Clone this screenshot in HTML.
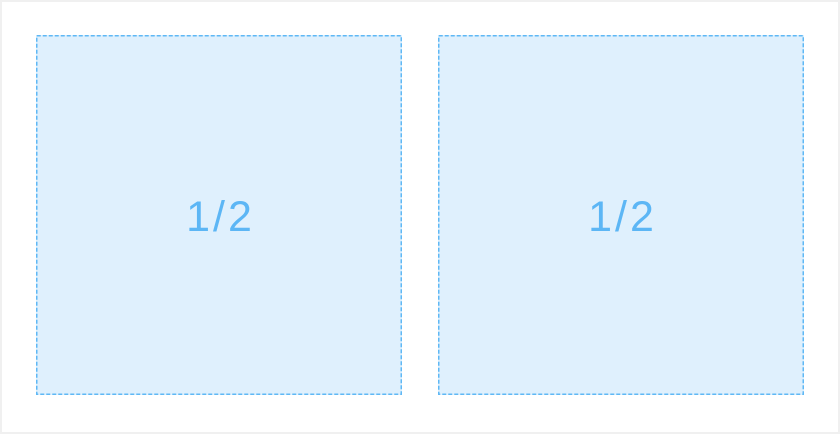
<!DOCTYPE html>
<html><head><meta charset="utf-8"><style>
html,body{margin:0;padding:0;background:#fff;}
#wrap{position:relative;width:840px;height:434px;box-sizing:border-box;border:2px solid #f0f0f0;overflow:hidden;}
.col{position:absolute;top:33px;width:366px;height:360px;box-sizing:border-box;background:#dff0fd;display:flex;align-items:center;justify-content:center;font-family:"Liberation Sans",sans-serif;font-size:43px;color:#5cb6f5;letter-spacing:3px;}
.col svg{position:absolute;left:0;top:0;}
.col span{position:relative;margin-top:4px;margin-left:3px;}
</style></head><body>
<div id="wrap">
<div class="col" style="left:34px"><svg width="366" height="360"><rect x="0.75" y="0.75" width="364.5" height="358.5" fill="none" stroke="#5fb8f5" stroke-width="1.5" stroke-dasharray="4 2"/></svg><span>1/2</span></div>
<div class="col" style="left:436px"><svg width="366" height="360"><rect x="0.75" y="0.75" width="364.5" height="358.5" fill="none" stroke="#5fb8f5" stroke-width="1.5" stroke-dasharray="4 2"/></svg><span>1/2</span></div>
</div>
</body></html>
